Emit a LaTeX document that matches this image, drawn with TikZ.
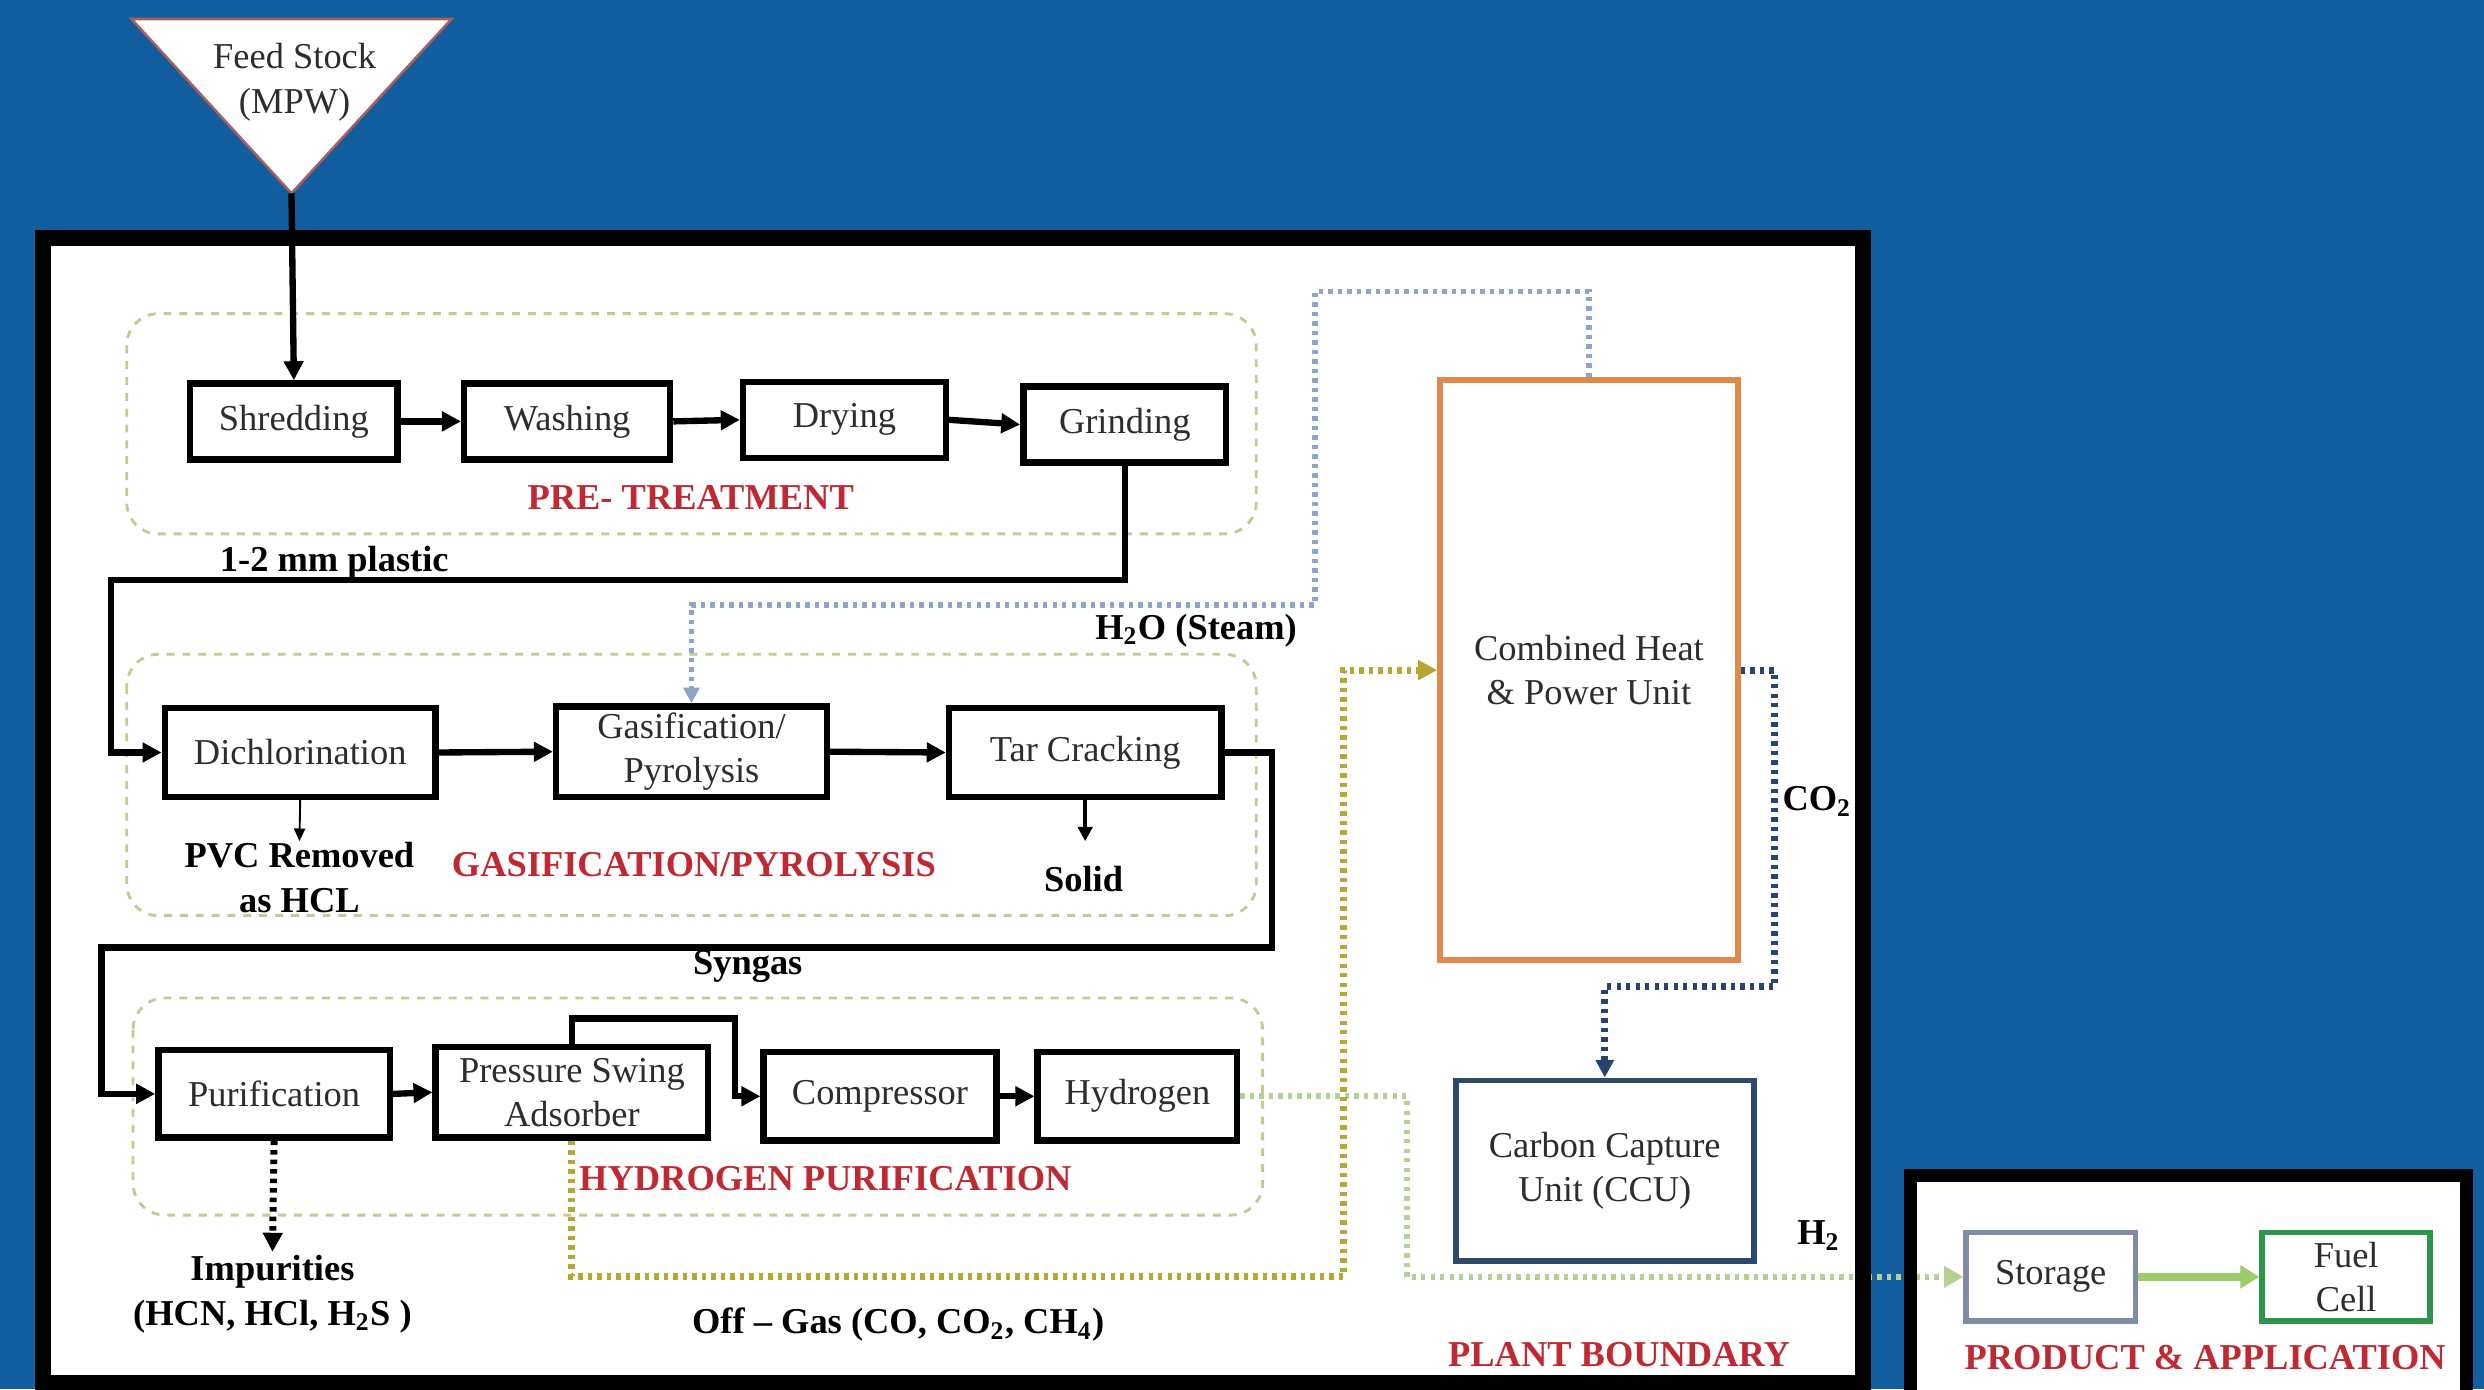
\documentclass[tikz,border=0pt]{standalone}
\usepackage{fontspec}
\setmainfont{Liberation Serif}
\usetikzlibrary{arrows.meta}
\definecolor{bgblue}{RGB}{18,94,158}
\definecolor{boxtext}{RGB}{45,45,45}
\definecolor{lblred}{RGB}{192,40,50}
\definecolor{grpdash}{RGB}{200,200,145}
\definecolor{chporange}{RGB}{224,138,74}
\definecolor{ccublue}{RGB}{44,74,106}
\definecolor{steamblue}{RGB}{140,165,200}
\definecolor{offolive}{RGB}{180,168,50}
\definecolor{hgreen}{RGB}{180,208,150}
\definecolor{co2blue}{RGB}{40,68,110}
\definecolor{storgray}{RGB}{128,140,165}
\definecolor{fcgreen}{RGB}{46,150,74}
\definecolor{arrgreen}{RGB}{156,204,108}
\definecolor{tribrd}{RGB}{170,95,95}
\tikzset{
  every node/.style={font=\fontsize{11.5}{14}\selectfont},
  pbox/.style={draw=black, fill=white, line width=2pt, inner sep=0pt, align=center, text=boxtext},
  grp/.style={draw=grpdash, line width=0.9pt, dash pattern=on 2.5pt off 2.5pt, rounded corners=10pt},
  conn/.style={draw=black, line width=2pt, -{Triangle[length=6pt,width=6pt]}},
  thinconn/.style={draw=black, line width=0.6pt, -{Triangle[length=4pt,width=3.5pt]}},
  lbl/.style={font=\fontsize{11.5}{14}\selectfont\bfseries, text=black, align=center, inner sep=1pt},
  redlbl/.style={font=\fontsize{11.5}{14}\selectfont\bfseries, text=lblred, inner sep=1pt},
  dotline/.style={line width=#1, dash pattern=on 1.4pt off 1.6pt},
}
\begin{document}
\begin{tikzpicture}[x=0.5pt,y=-0.5pt]
\useasboundingbox (0,0) rectangle (1568,877);
\clip (0,0) rectangle (1568,877);
\fill[bgblue] (0,0) rectangle (1568,877);
% white areas
\fill[white] (27,150) rectangle (1176,880);
\fill[white] (1206,742) rectangle (1557,880);

% groups
\draw[grp] (80,198) rectangle (793,337);
\draw[grp] (80,413) rectangle (793,578);
\draw[grp] (84,630) rectangle (797,767);

% feed stock triangle
\draw[fill=white, draw=tribrd, line width=0.8pt] (83,12) -- (285,12) -- (184,122) -- cycle;
\node[align=center, text=boxtext] (feed) at (186,52) {Feed Stock\\(MPW)};
\coordinate (feedtip) at (184,122);

% pre-treatment
\node[pbox, minimum width=65.5pt, minimum height=24pt] (shred) at (185.5,266) {Shredding};
\node[pbox, minimum width=65pt, minimum height=24pt] (wash) at (358,266) {Washing};
\node[pbox, minimum width=64pt, minimum height=24pt] (dry) at (533,265) {Drying};
\node[pbox, minimum width=64pt, minimum height=24pt] (grind) at (710,268) {Grinding};
\node[redlbl] (ptlbl) at (436,314) {PRE- TREATMENT};

% gasification
\node[pbox, minimum width=85.5pt, minimum height=28pt] (dich) at (189.5,475) {Dichlorination};
\node[pbox, minimum width=85.5pt, minimum height=28.5pt] (gas) at (436.5,474.5) {Gasification/\\Pyrolysis};
\node[pbox, minimum width=86pt, minimum height=28pt] (tar) at (685,475) {Tar Cracking};
\node[redlbl] (gplbl) at (438,546) {GASIFICATION/PYROLYSIS};
\node[lbl] (pvc) at (189,554) {PVC Removed\\as HCL};
\node[lbl] (solid) at (684,555) {Solid};
\coordinate (solidtop) at (685,531);
\coordinate (pvctop) at (189,531);

% hydrogen purification
\node[pbox, minimum width=73pt, minimum height=27.5pt] (purif) at (173,690.5) {Purification};
\node[pbox, minimum width=86pt, minimum height=28.5pt] (psa) at (361,689.5) {Pressure Swing\\Adsorber};
\node[pbox, minimum width=73.5pt, minimum height=28pt] (comp) at (555.5,692) {Compressor};
\node[pbox, minimum width=63pt, minimum height=28pt] (hyd) at (718,692) {Hydrogen};
\node[redlbl] (hplbl) at (521,744) {HYDROGEN PURIFICATION};
\node[lbl] (impur) at (172,817) {Impurities\\(HCN, HCl, H\textsubscript{2}S )};

% CHP and CCU
\node[pbox, draw=chporange, line width=1.8pt, minimum width=94pt, minimum height=183pt] (chp) at (1003,423) {Combined Heat\\\& Power Unit};
\node[pbox, draw=ccublue, line width=1.8pt, minimum width=94pt, minimum height=57pt] (ccu) at (1013,739) {Carbon Capture\\Unit (CCU)};

% product & application
\node[pbox, draw=storgray, line width=1.8pt, minimum width=53.5pt, minimum height=28pt] (stor) at (1294.5,806) {Storage};
\node[pbox, draw=fcgreen, line width=1.8pt, minimum width=53pt, minimum height=28pt] (fuel) at (1481,806) {Fuel\\Cell};

% labels
\node[lbl] (plastic) at (211,355) {1-2 mm plastic};
\node[lbl] (steam) at (755,398) {H\textsubscript{2}O (Steam)};
\node[lbl] (co2) at (1147,506) {CO\textsubscript{2}};
\node[lbl] (syngas) at (472,610) {Syngas};
\node[lbl] (offgas) at (567,836) {Off -- Gas (CO, CO\textsubscript{2}, CH\textsubscript{4})};
\node[lbl] (h2) at (1148,780) {H\textsubscript{2}};
\node[redlbl] (pblbl) at (1022,855) {PLANT BOUNDARY};
\node[redlbl] (palbl) at (1392,857) {PRODUCT \& APPLICATION};

% helper coordinates
\coordinate (c1) at (70,366);
\coordinate (c2) at (803,598);
\coordinate (c3) at (64,598);
\coordinate (c4) at (464,643);
\coordinate (c5) at (848,806);
\coordinate (c6) at (830,184);
\coordinate (c7) at (830,382);
\coordinate (c8) at (1120,623);
\coordinate (c9) at (888,806);

% H2 line (under boundary borders)
\draw[hgreen, dotline=2pt] (hyd.east) -| (c9) -- ([xshift=-6pt]stor.west);
\fill[hgreen] (stor.west) -- ++(-6pt,-3.5pt) -- ++(0,7pt) -- cycle;

% boundaries
\draw[black, line width=5pt] (27,150) rectangle (1176,873);
\draw[black, line width=4pt] (1206,742) rectangle (1557,885);

% black process connectors
\draw[conn] (feedtip) -- (shred.north);
\draw[conn] (shred.east) -- (wash.west);
\draw[conn] (wash.east) -- (dry.west);
\draw[conn] (dry.east) -- (grind.west);
\draw[conn] (grind.south) |- (c1) |- (dich.west);
\draw[conn] (dich.east) -- (gas.west);
\draw[conn] (gas.east) -- (tar.west);
\draw[conn] (tar.east) -| (c2) -- (c3) |- (purif.west);
\draw[conn] (purif.east) -- (psa.west);
\draw[conn] (psa.north) |- (c4) |- (comp.west);
\draw[conn] (comp.east) -- (hyd.west);
\draw[thinconn] (dich.south) -- (pvctop);
\draw[black, line width=1.2pt, -{Triangle[length=4.5pt,width=4.5pt]}] (tar.south) -- (solidtop);
\draw[black, dotline=2.2pt, -{Triangle[length=6pt,width=6pt]}] (purif.south) -- (impur.north);

% utility connectors
\draw[offolive, dotline=2.2pt, -{Triangle[length=6pt,width=6pt]}] (psa.south) |- (c5) |- (chp.west);
\draw[steamblue, dotline=1.8pt, -{Triangle[length=5pt,width=5pt]}] (chp.north) |- (c6) -- (c7) -| (gas.north);
\draw[co2blue, dotline=2.2pt, -{Triangle[length=5.5pt,width=5.5pt]}] (chp.east) -| (c8) -| (ccu.north);
\draw[arrgreen, line width=2.5pt, -{Triangle[length=6pt,width=7pt]}] (stor.east) -- (fuel.west);
\end{tikzpicture}
\end{document}
